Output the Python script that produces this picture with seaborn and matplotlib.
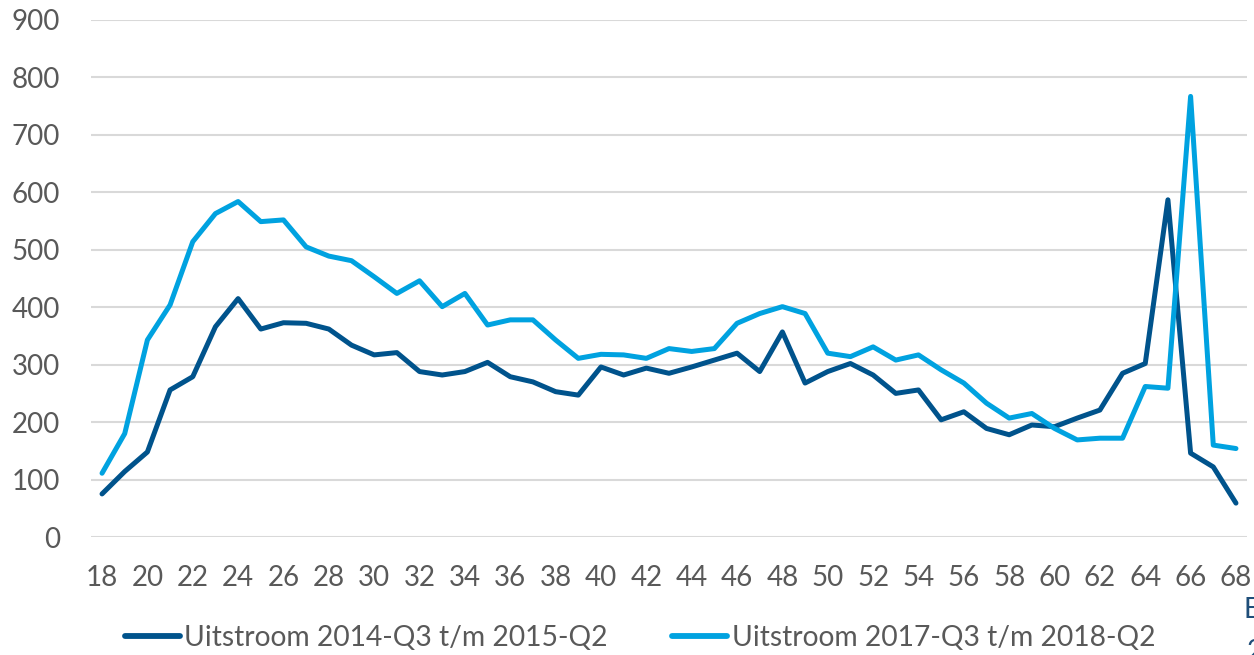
import matplotlib
matplotlib.use("Agg")
import matplotlib.pyplot as plt
import seaborn as sns
import pandas as pd
import numpy as np

ages = list(range(18, 69))
uitstroom_2014 = [75, 114, 148, 256, 279, 366, 415, 362, 373, 372, 362, 334, 317, 321, 288, 282, 288, 304,
                  279, 270, 253, 247, 296, 282, 294, 285, 296, 308, 320, 288, 357, 268, 288, 302, 282, 250,
                  256, 204, 218, 189, 178, 195, 192, 207, 221, 285, 302, 587, 146, 122, 59]
uitstroom_2017 = [111, 180, 343, 404, 514, 563, 584, 549, 552, 505, 489, 481, 453, 424, 446, 401, 424, 369,
                  378, 378, 343, 311, 318, 317, 311, 328, 323, 328, 372, 389, 401, 389, 320, 314, 331, 308,
                  317, 291, 268, 233, 207, 215, 189, 169, 172, 172, 262, 259, 767, 160, 154]
series_names = ["Uitstroom 2014-Q3 t/m 2015-Q2", "Uitstroom 2017-Q3 t/m 2018-Q2"]
y_ticks = [0, 100, 200, 300, 400, 500, 600, 700, 800, 900]
x_ticks = list(range(18, 69, 2))

df = pd.DataFrame({
    "leeftijd": ages * 2,
    "aantal": uitstroom_2014 + uitstroom_2017,
    "reeks": [series_names[0]] * len(ages) + [series_names[1]] * len(ages),
})

sns.set_theme(style="white")
plt.rcParams['font.family'] = ['Lato', 'DejaVu Sans']

fig = plt.figure(figsize=(12.54, 6.55), dpi=100)
ax = fig.add_axes([90.7 / 1254, 1 - 537 / 655, 1156.6 / 1254, 517 / 655])

palette = {series_names[0]: "#00538C", series_names[1]: "#00A2E0"}
sns.lineplot(data=df, x="leeftijd", y="aantal", hue="reeks", palette=palette,
             linewidth=3.6, ax=ax, solid_joinstyle="round", solid_capstyle="round")

ax.set_xlim(17.5, 68.5)
ax.set_ylim(0, 900)
ax.set_yticks(y_ticks)
ax.set_xticks(x_ticks)
ax.set_xticklabels([str(t) for t in x_ticks])
ax.set_xlabel("")
ax.set_ylabel("")
for s in ax.spines.values():
    s.set_visible(False)
ax.grid(axis="y", color="#D9D9D9", linewidth=1.5)
ax.set_axisbelow(True)
ax.tick_params(axis="both", length=0, labelsize=20, labelcolor="#595959")
ax.tick_params(axis="y", pad=22)
ax.tick_params(axis="x", pad=20)

handles, labels = ax.get_legend_handles_labels()
if ax.legend_:
    ax.legend_.remove()
leg = fig.legend(handles, labels, loc="center", bbox_to_anchor=(640 / 1254, 1 - 638 / 655),
                 ncol=2, frameon=False, fontsize=20.3, handlelength=1.95, handletextpad=0.15,
                 columnspacing=2.3, labelcolor="#595959")
for line in leg.get_lines():
    line.set_linewidth(4.2)

fig.text(1243 / 1254, 1 - 610 / 655, "E", fontsize=20, color="#1F4E79", ha="left", va="center")
fig.text(1247 / 1254, 1 - 652 / 655, "2", fontsize=20, color="#1F4E79", ha="left", va="center")

fig.savefig("out.png", dpi=100)
